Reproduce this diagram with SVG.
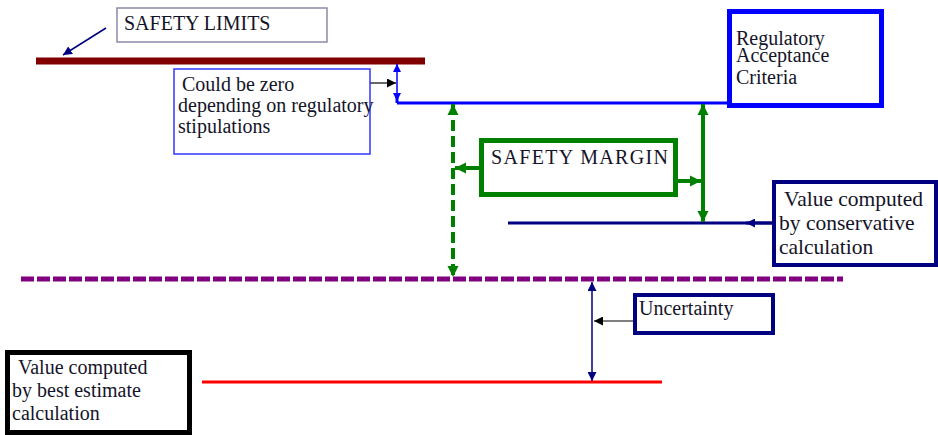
<svg xmlns="http://www.w3.org/2000/svg" width="938" height="435" viewBox="0 0 938 435">
<style>
text{font-family:"Times New Roman",Tinos,"Liberation Serif","DejaVu Serif","Noto Serif",Georgia,serif;font-size:20px;fill:#141428}
.box{fill:#fff}
</style>
<defs>
<marker id="navyS" viewBox="0 0 10 10" refX="10" refY="5" markerWidth="9" markerHeight="9" markerUnits="userSpaceOnUse" orient="auto-start-reverse"><path d="M0,0L10,5L0,10z" fill="#000080"/></marker>
<marker id="blk" viewBox="0 0 10 10" refX="10" refY="5" markerWidth="9" markerHeight="9" markerUnits="userSpaceOnUse" orient="auto-start-reverse"><path d="M0,0L10,5L0,10z" fill="#000"/></marker>
<marker id="blu" viewBox="0 0 10 10" refX="10" refY="5" markerWidth="9" markerHeight="8" markerUnits="userSpaceOnUse" orient="auto-start-reverse"><path d="M0,0L10,5L0,10z" fill="#0000ff"/></marker>
<marker id="grn" viewBox="0 0 10 10" refX="10" refY="5" markerWidth="11" markerHeight="12" markerUnits="userSpaceOnUse" orient="auto-start-reverse"><path d="M0,0L10,5L0,10z" fill="#008000"/></marker>
</defs>

<g id="lines">
<line x1="36" y1="61" x2="425" y2="61" stroke="#800000" stroke-width="7"/>
<line x1="397" y1="103" x2="727" y2="103" stroke="#0000ff" stroke-width="3"/>
<line x1="508" y1="223" x2="772" y2="223" stroke="#000080" stroke-width="3"/>
<line x1="21" y1="279" x2="843" y2="279" stroke="#800080" stroke-width="5" stroke-dasharray="13 3"/>
<line x1="202" y1="382" x2="662" y2="382" stroke="#ff0000" stroke-width="3"/>
</g>

<g id="connectors">
<line x1="106" y1="28" x2="63" y2="55" stroke="#000080" stroke-width="1.5" marker-end="url(#navyS)"/>
<line x1="370" y1="83" x2="396" y2="83" stroke="#000" stroke-width="1.2" marker-end="url(#blk)"/>
<line x1="397" y1="64" x2="397" y2="101" stroke="#0000ff" stroke-width="1.5" marker-start="url(#blu)" marker-end="url(#blu)"/>
<line x1="397" y1="96" x2="397" y2="103" stroke="#0000ff" stroke-width="3"/>
<line x1="453" y1="104" x2="453" y2="277" stroke="#008000" stroke-width="4" stroke-dasharray="11 5" marker-start="url(#grn)" marker-end="url(#grn)"/>
<line x1="703" y1="104" x2="703" y2="222" stroke="#008000" stroke-width="4" marker-start="url(#grn)" marker-end="url(#grn)"/>
<line x1="479" y1="168" x2="455" y2="168" stroke="#008000" stroke-width="4" marker-end="url(#grn)"/>
<line x1="678" y1="181" x2="701" y2="181" stroke="#008000" stroke-width="4" marker-end="url(#grn)"/>
<line x1="772" y1="223" x2="746" y2="223" stroke="#000080" stroke-width="3" marker-end="url(#navyS)"/>
<line x1="592" y1="282" x2="592" y2="381" stroke="#000080" stroke-width="1.5" marker-start="url(#navyS)" marker-end="url(#navyS)"/>
<line x1="633" y1="321" x2="594" y2="321" stroke="#000" stroke-width="1.2" marker-end="url(#blk)"/>
</g>

<g id="safety-limits">
<rect class="box" x="117" y="8" width="210" height="34" stroke="#8a8aaa" stroke-width="1.5"/>
<text x="124" y="30">SAFETY LIMITS</text>
</g>

<g id="could-be-zero">
<rect class="box" x="174" y="69" width="196" height="85" stroke="#3333ff" stroke-width="1.5"/>
<text x="182" y="91">Could be zero</text>
<text x="178" y="112">depending on regulatory</text>
<text x="178" y="133">stipulations</text>
</g>

<g id="regulatory">
<rect class="box" x="729.5" y="11.5" width="152" height="94" stroke="#0000ff" stroke-width="5"/>
<text x="736" y="45">Regulatory</text>
<text x="736" y="62">Acceptance</text>
<text x="736" y="84">Criteria</text>
</g>

<g id="safety-margin">
<rect class="box" x="481.5" y="140.5" width="194" height="54" stroke="#008000" stroke-width="5"/>
<text x="491" y="164" textLength="177">SAFETY MARGIN</text>
</g>

<g id="conservative">
<rect class="box" x="774" y="182" width="162" height="83" stroke="#000080" stroke-width="4"/>
<text x="784" y="206" style="font-size:21.5px">Value computed</text>
<text x="779" y="230" style="font-size:21.5px">by conservative</text>
<text x="779" y="254" style="font-size:21.5px">calculation</text>
</g>

<g id="uncertainty">
<rect class="box" x="635" y="295" width="138" height="38" stroke="#000080" stroke-width="4"/>
<text x="639" y="315">Uncertainty</text>
</g>

<g id="best-estimate">
<rect class="box" x="7.5" y="352.5" width="182" height="80" stroke="#000" stroke-width="5"/>
<text x="18" y="374">Value computed</text>
<text x="12" y="397">by best estimate</text>
<text x="12" y="420">calculation</text>
</g>
</svg>
